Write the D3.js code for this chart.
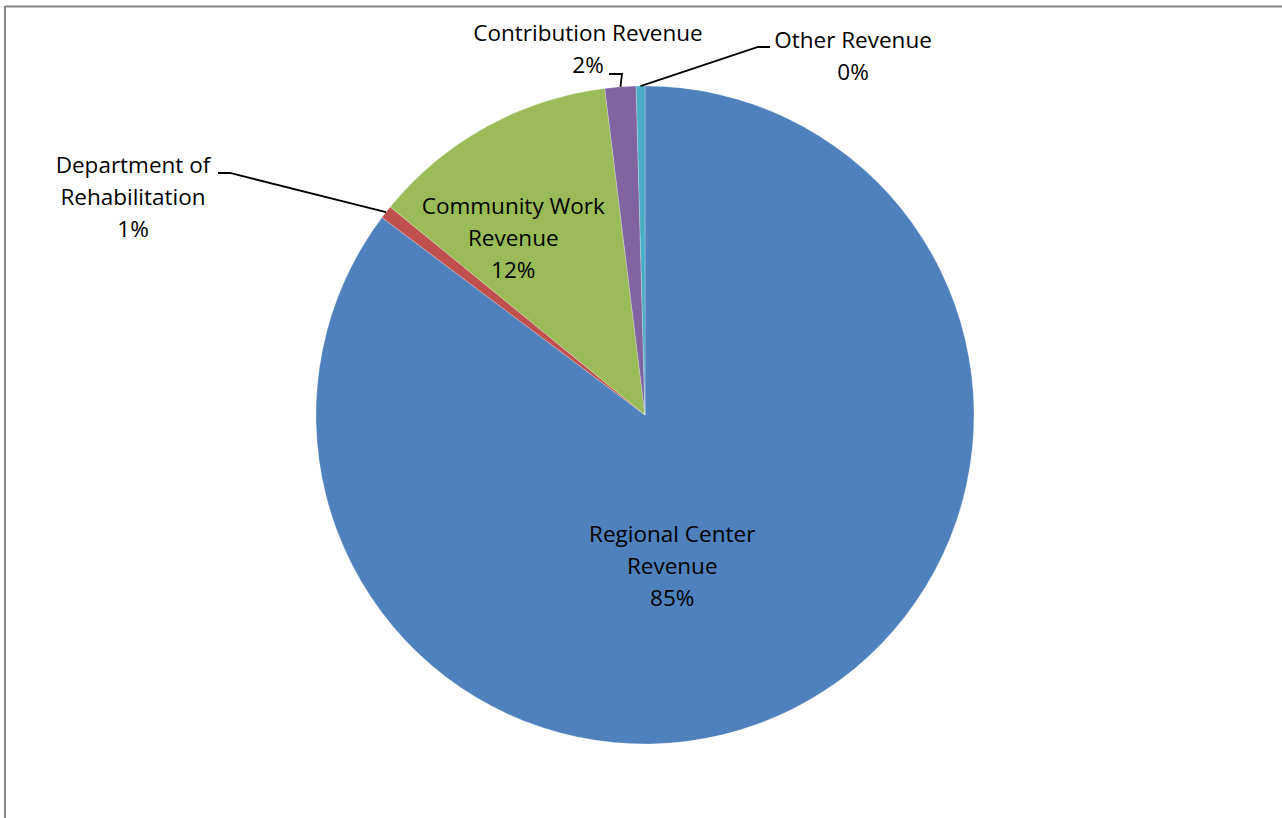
<!DOCTYPE html>
<html>
<head>
<meta charset="utf-8">
<script src="https://cdn.jsdelivr.net/npm/d3@7"></script>
<style>
    body { margin: 0; background: #fff; }
    svg { display: block; }
</style>
</head>
<body>
<div id="chart"></div>
<script>
// Revenue categories, in drawing order (clockwise from 12 o'clock)
var categories = ['Regional Center Revenue', 'Department of Rehabilitation',
    'Community Work Revenue', 'Contribution Revenue', 'Other Revenue'];
// Share of total revenue, in percent
var shares = [85.25, 0.65, 12.15, 1.52, 0.43];
// Label lines shown for each category
var labelLines = [
    ['Regional Center', 'Revenue'],
    ['Department of', 'Rehabilitation'],
    ['Community Work', 'Revenue'],
    ['Contribution Revenue'],
    ['Other Revenue']
];
var colors = ['#4F81BD', '#C0504D', '#9BBB59', '#8064A2', '#4BACC6'];

var width = 1282, height = 818;
var cx = 645, cy = 415, radius = 329;
var lineHeight = 32;

// Where each label sits. Inside labels: polar position (angle in deg, radius fraction).
// Outside labels: label centre relative to the pie centre plus leader elbow.
var labelLayout = [
    { inside: true, angle: 169.8, r: 0.467 },
    { inside: false, dx: -512, dy: -218, elbow: [-415, -242], elbowEnd: [-427, -242] },
    { inside: true, angle: 323.3, r: 0.67 },
    { inside: false, dx: -57, dy: -366, elbow: [-23, -341], elbowEnd: [-36, -341] },
    { inside: false, dx: 208, dy: -359, elbow: [113, -368], elbowEnd: [125, -368] }
];

var data = categories.map(function(c, i) {
    return { name: c, value: shares[i], lines: labelLines[i], color: colors[i], layout: labelLayout[i] };
});

var svg = d3.select('#chart').append('svg')
    .attr('width', width)
    .attr('height', height);

// Chart area border (top and left edges only are visible)
svg.append('line')
    .attr('x1', 5).attr('y1', 6.5).attr('x2', width).attr('y2', 6.5)
    .attr('stroke', '#868686').attr('stroke-width', 2);
svg.append('line')
    .attr('x1', 5).attr('y1', 6).attr('x2', 5).attr('y2', height)
    .attr('stroke', '#868686').attr('stroke-width', 2);

var pie = d3.pie()
    .sort(null)
    .value(function(d) { return d.value; });

var arc = d3.arc()
    .innerRadius(0)
    .outerRadius(radius);

var arcs = pie(data);

var g = svg.append('g')
    .attr('transform', 'translate(' + cx + ',' + cy + ')');

// Draw the slices
g.selectAll('path.slice')
    .data(arcs)
    .enter()
    .append('path')
    .classed('slice', true)
    .attr('d', arc)
    .attr('fill', function(d) { return d.data.color; })
    .attr('stroke', 'rgba(255,255,255,0.35)')
    .attr('stroke-width', 0.7);

// Point at angle a (radians, clockwise from 12 o'clock) and distance r
function polar(a, r) {
    return [Math.sin(a) * r, -Math.cos(a) * r];
}

var fmt = function(v) { return Math.round(v) + '%'; };

arcs.forEach(function(d) {
    var lay = d.data.layout;
    var lines = d.data.lines.concat([fmt(d.data.value)]);
    var pos;
    if (lay.inside) {
        pos = polar(lay.angle * Math.PI / 180, lay.r * radius);
    } else {
        pos = [lay.dx, lay.dy];
        // Leader line from the slice rim to the label
        var mid = (d.startAngle + d.endAngle) / 2;
        var rim = polar(mid, radius);
        g.append('polyline')
            .attr('points', [rim, lay.elbow, lay.elbowEnd].map(function(p) { return p.join(','); }).join(' '))
            .attr('fill', 'none')
            .attr('stroke', '#000')
            .attr('stroke-width', 1.8);
    }
    var top = pos[1] - (lines.length - 1) * lineHeight / 2;
    var text = g.append('text')
        .attr('font-family', '"Open Sans", sans-serif')
        .attr('font-size', '22.5px')
        .attr('fill', '#000')
        .attr('text-anchor', 'middle');
    lines.forEach(function(l, i) {
        text.append('tspan')
            .attr('x', pos[0])
            .attr('y', top + i * lineHeight)
            .attr('dy', '0.35em')
            .text(l);
    });
});
</script>
</body>
</html>
